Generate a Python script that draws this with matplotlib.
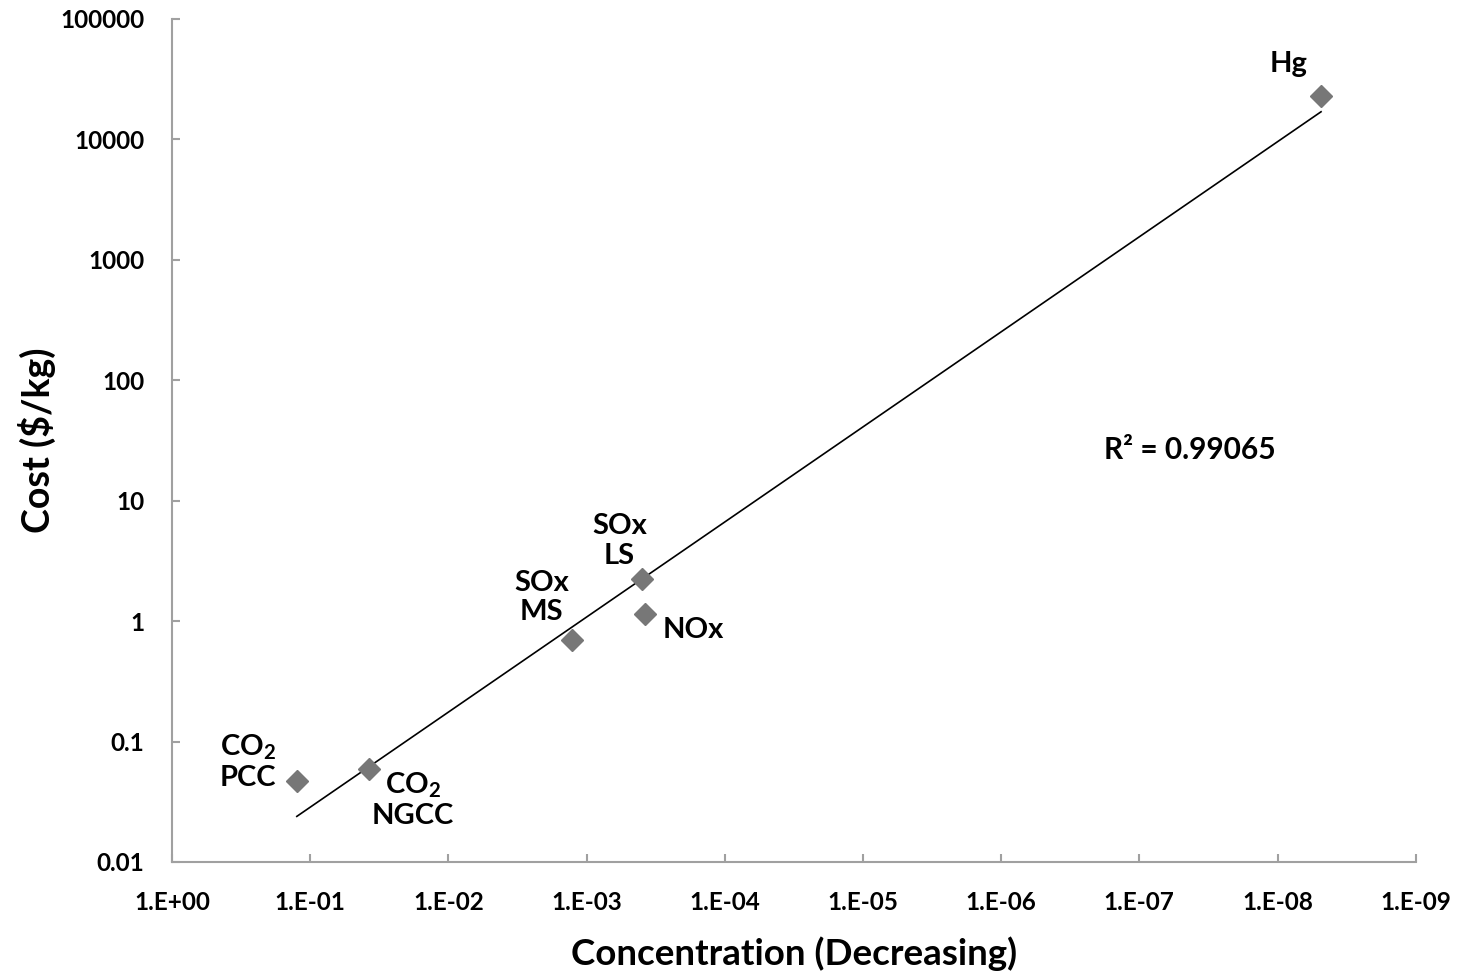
import numpy as np
import matplotlib
matplotlib.use("Agg")
import matplotlib.pyplot as plt
from matplotlib.ticker import FixedLocator, FixedFormatter, NullLocator

plt.rcParams['font.family'] = ['Lato', 'DejaVu Sans']
plt.rcParams['mathtext.default'] = 'regular'

# data
labels = ['CO$_2$\nPCC', 'CO$_2$\nNGCC', 'SOx\nMS', 'SOx\nLS', 'NOx', 'Hg']
concentration = [0.125, 0.0377, 1.28e-3, 4.0e-4, 3.8e-4, 4.84e-9]
cost = [0.047, 0.059, 0.70, 2.24, 1.15, 23000]
# label offsets in pixels from each point
label_offsets = [(-49, 19), (44, -31), (-30, 42), (-22, 38), (49, -16), (-32, 32)]

x_ticks = [1e0, 1e-1, 1e-2, 1e-3, 1e-4, 1e-5, 1e-6, 1e-7, 1e-8, 1e-9]
x_tick_labels = ['1.E+00', '1.E-01', '1.E-02', '1.E-03', '1.E-04',
                 '1.E-05', '1.E-06', '1.E-07', '1.E-08', '1.E-09']
y_ticks = [0.01, 0.1, 1, 10, 100, 1000, 10000, 100000]
y_tick_labels = ['0.01', '0.1', '1', '10', '100', '1000', '10000', '100000']

fig = plt.figure(figsize=(14.64, 9.74), dpi=100)
ax = fig.add_axes([0.1175, 0.115, 0.8495, 0.8655])

ax.set_xscale('log')
ax.set_yscale('log')
ax.set_xlim(1e0, 1e-9)
ax.set_ylim(0.01, 100000)

# power trendline fitted in log-log space
lx = np.log10(concentration)
ly = np.log10(cost)
slope, intercept = np.polyfit(lx, ly, 1)
xs = np.array([max(concentration), min(concentration)])
ax.plot(xs, 10 ** (intercept + slope * np.log10(xs)), color='black', lw=1.2, zorder=2)

ax.plot(concentration, cost, linestyle='none', marker='D', ms=11.5,
        color='#777777', zorder=3)

for lab, cx, cy, off in zip(labels, concentration, cost, label_offsets):
    ax.annotate(lab, (cx, cy), xytext=off, textcoords='offset pixels',
                ha='center', va='center', fontsize=21, fontweight='bold',
                linespacing=1.15)

ax.text(0.818, 0.489, 'R² = 0.99065', transform=ax.transAxes,
        ha='center', va='center', fontsize=21.5, fontweight='bold')

ax.xaxis.set_major_locator(FixedLocator(x_ticks))
ax.xaxis.set_major_formatter(FixedFormatter(x_tick_labels))
ax.xaxis.set_minor_locator(NullLocator())
ax.yaxis.set_major_locator(FixedLocator(y_ticks))
ax.yaxis.set_major_formatter(FixedFormatter(y_tick_labels))
ax.yaxis.set_minor_locator(NullLocator())

for side in ['top', 'right']:
    ax.spines[side].set_visible(False)
for side in ['left', 'bottom']:
    ax.spines[side].set_color('#a0a0a0')
    ax.spines[side].set_linewidth(1.5)
ax.tick_params(direction='in', length=6, width=1.5, color='#a0a0a0',
               labelsize=17.5)
ax.tick_params(axis='y', pad=20)
ax.tick_params(axis='x', pad=21)
for t in ax.get_xticklabels() + ax.get_yticklabels():
    t.set_fontweight('bold')

ax.set_xlabel('Concentration (Decreasing)', fontsize=26.5, fontweight='bold', labelpad=16)
ax.set_ylabel('Cost (\\$/kg)', fontsize=27, fontweight='bold', labelpad=3)

fig.savefig('out.png', dpi=100)
